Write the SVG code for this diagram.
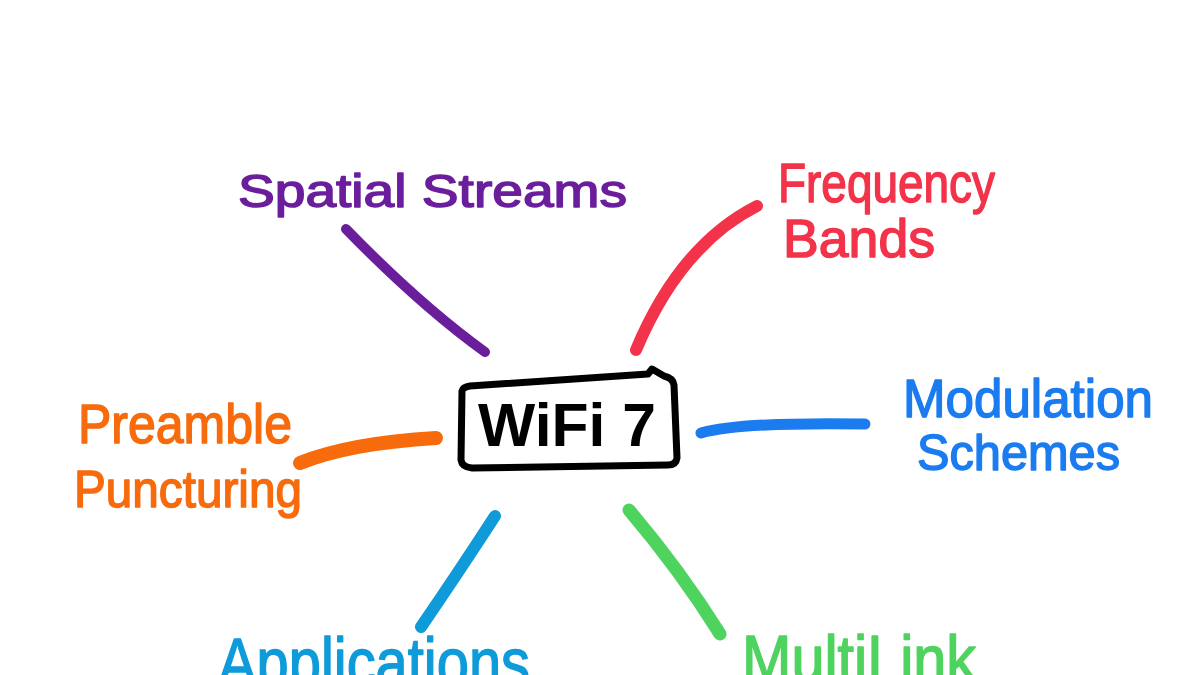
<svg xmlns="http://www.w3.org/2000/svg" width="1200" height="675" viewBox="0 0 1200 675">
<style>
.lbl{font-family:"Liberation Sans","DejaVu Sans",sans-serif;font-weight:normal;stroke-linejoin:round;stroke-width:1.5}
.con{fill:none;stroke-linecap:round;stroke-linejoin:round}
.purple{fill:#6b1e9c;stroke:#6b1e9c}
.red{fill:#f2334a;stroke:#f2334a}
.blue{fill:#1b7cf0;stroke:#1b7cf0}
.orange{fill:#f76b0c;stroke:#f76b0c}
.cyan{fill:#0f9bd9;stroke:#0f9bd9}
.green{fill:#4fd35f;stroke:#4fd35f}
</style>
<rect width="1200" height="675" fill="#ffffff"/>
<g id="connectors">
<path class="con" d="M346 229 Q 420 305 485 352" stroke="#6b1e9c" stroke-width="10"/>
<path class="con" d="M757 206 Q 680 245 636 350" stroke="#f2334a" stroke-width="12"/>
<path class="con" d="M701 433 Q 740 422 865 424" stroke="#1b7cf0" stroke-width="11"/>
<path class="con" d="M300 463 Q 350 443 436 438" stroke="#f76b0c" stroke-width="14"/>
<path class="con" d="M495 516 Q 460 570 421 627" stroke="#0f9bd9" stroke-width="12"/>
<path class="con" d="M629 510 Q 680 570 720 634" stroke="#4fd35f" stroke-width="13"/>
</g>
<g id="wifi7">
<path d="M462 391 Q 463 387 470 386 L 648 374 L 652 369 L 664 376 Q 673 378 674 385 L 677 458 Q 676 465 668 465 L 472 468 Q 462 467 461 460 Z" fill="none" stroke="#000" stroke-width="7" stroke-linejoin="round" stroke-linecap="round"/>
<text x="478" y="446" font-family="Liberation Sans, DejaVu Sans, sans-serif" font-weight="bold" font-size="62" textLength="178" lengthAdjust="spacingAndGlyphs" fill="#000">WiFi 7</text>
</g>
<g id="spatial-streams">
<text class="lbl purple" x="238" y="207" font-size="46" textLength="389" lengthAdjust="spacingAndGlyphs">Spatial Streams</text>
</g>
<g id="frequency-bands">
<text class="lbl red" x="778" y="202" font-size="56" textLength="217" lengthAdjust="spacingAndGlyphs">Frequency</text>
<text class="lbl red" x="783" y="257" font-size="54" textLength="152" lengthAdjust="spacingAndGlyphs">Bands</text>
</g>
<g id="modulation-schemes">
<text class="lbl blue" x="903" y="417" font-size="54" textLength="250" lengthAdjust="spacingAndGlyphs">Modulation</text>
<text class="lbl blue" x="917" y="470" font-size="50" textLength="203" lengthAdjust="spacingAndGlyphs">Schemes</text>
</g>
<g id="preamble-puncturing">
<text class="lbl orange" x="78" y="443" font-size="56" textLength="214" lengthAdjust="spacingAndGlyphs">Preamble</text>
<text class="lbl orange" x="74" y="507" font-size="52" textLength="228" lengthAdjust="spacingAndGlyphs">Puncturing</text>
</g>
<g id="applications">
<text class="lbl cyan" x="218" y="686" font-size="68" textLength="312" lengthAdjust="spacingAndGlyphs">Applications</text>
</g>
<g id="multilink">
<text class="lbl green" x="742" y="681" font-size="64" textLength="234" lengthAdjust="spacingAndGlyphs">MultiLink</text>
</g>
</svg>
